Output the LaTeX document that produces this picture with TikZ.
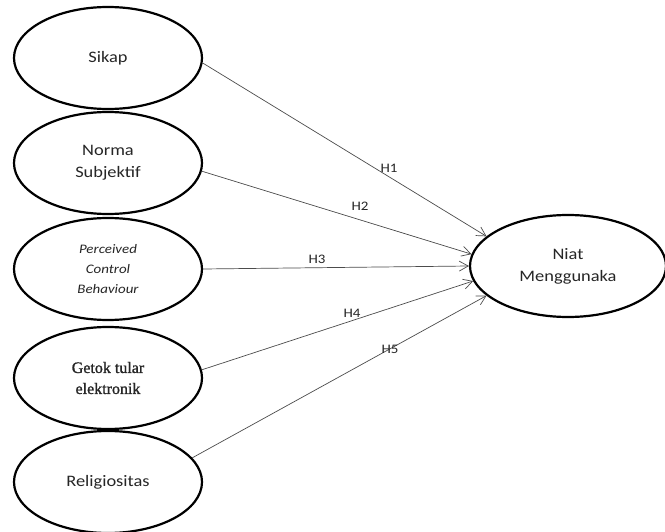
\documentclass[tikz,border=0pt]{standalone}
\usepackage{fontspec}
\setmainfont{Carlito}[FakeStretch=1.15]
\newfontfamily\getokfont{Liberation Serif}[FakeBold=1.2]
\usetikzlibrary{shapes.geometric,arrows.meta}
\begin{document}
\begin{tikzpicture}[x=1pt,y=-1pt,
  construct/.style={ellipse, draw=black, line width=2.2pt, minimum width=188pt,
    minimum height=102pt, inner sep=0pt, align=center, text=black!85,
    font=\fontsize{16}{22}\selectfont},
  hyparrow/.style={draw=black!70, line width=0.7pt,
    -{Straight Barb[length=9pt,width=10pt]}},
  hlabel/.style={text=black!85, font=\fontsize{13}{15}\selectfont, inner sep=0pt}]
\useasboundingbox[fill=white] (0,0) rectangle (665,532);

\node[construct] (sikap) at (108,58) {Sikap};
\node[construct] (norma) at (108,163) {Norma\\Subjektif};
\node[construct, font=\fontsize{13}{20}\selectfont\itshape] (pcb) at (108,269)
  {Perceived\\Control\\Behaviour};
\node[construct, font=\fontsize{16}{21}\selectfont\getokfont] (getok) at (108,378)
  {Getok tular\\elektronik};
\node[construct] (relig) at (108,482) {Religiositas};
\node[construct, minimum width=196pt] (niat) at (568,266) {Niat\\Menggunaka};

\draw[hyparrow] (sikap.-3) -- (niat.160);
\draw[hyparrow] (norma.-5) -- (niat.173);
\draw[hyparrow] (pcb.east) -- (niat.west);
\draw[hyparrow] (getok.5) -- (niat.189);
\draw[hyparrow] (relig.16) -- (niat.200);

\node[hlabel] (h1) at (389,168) {H1};
\node[hlabel] (h2) at (360,206) {H2};
\node[hlabel] (h3) at (317,259) {H3};
\node[hlabel] (h4) at (352,313) {H4};
\node[hlabel] (h5) at (390,349) {H5};
\end{tikzpicture}
\end{document}
